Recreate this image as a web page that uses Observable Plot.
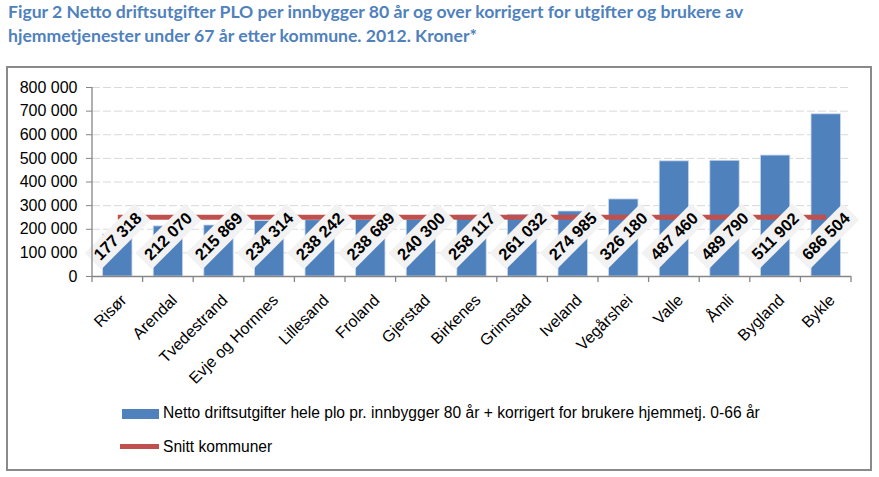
<!DOCTYPE html>
<html>
<head>
<meta charset="utf-8">
<script src="https://cdn.jsdelivr.net/npm/d3@7"></script>
<script src="https://cdn.jsdelivr.net/npm/@observablehq/plot@0.6"></script>
<style>
  html, body { margin: 0; padding: 0; background: #fff; }
  body { width: 879px; height: 477px; position: relative; overflow: hidden; font-family: "Liberation Sans", Arial, sans-serif; }
  #title { position: absolute; left: 8px; top: 0px; font-family: Lato, "Open Sans", sans-serif; font-weight: 700; font-size: 17.6px; line-height: 24px; color: #4F81BD; white-space: nowrap; }
  #frame { position: absolute; left: 6px; top: 66px; width: 866px; height: 405px; box-sizing: border-box; border: 2px solid #8a8a8a; }
  #chart { position: absolute; left: 6px; top: 66px; }
  .leg { position: absolute; font-size: 15.6px; color: #000; white-space: nowrap; line-height: 18px; }
  .sw { position: absolute; }
</style>
</head>
<body>
<div id="title">Figur 2 Netto driftsutgifter PLO per innbygger 80 år og over korrigert for utgifter og brukere av<br>hjemmetjenester under 67 år etter kommune. 2012. Kroner*</div>
<div id="frame"></div>
<div id="chart"></div>
<div class="sw" style="left:122px;top:409px;width:37px;height:10px;background:#4F81BD"></div>
<div class="leg" style="left:163px;top:404px">Netto driftsutgifter hele plo pr. innbygger 80 år + korrigert for brukere hjemmetj. 0-66 år</div>
<div class="sw" style="left:120px;top:444px;width:39px;height:5px;background:#C0504D"></div>
<div class="leg" style="left:163px;top:438px">Snitt kommuner</div>
<script>
const categories = ["Risør","Arendal","Tvedestrand","Evje og Hornnes","Lillesand","Froland","Gjerstad","Birkenes","Grimstad","Iveland","Vegårshei","Valle","Åmli","Bygland","Bykle"];
const values = [177318,212070,215869,234314,238242,238689,240300,258117,261032,274985,326180,487460,489790,511902,686504];
const snittValue = 251000;
const yTicks = [0,100000,200000,300000,400000,500000,600000,700000,800000];

const fmt = d => d3.format(",")(d).replace(/,/g, " ");
const rows = categories.map((name, i) => ({name, value: values[i]}));
const snittRows = categories.map(name => ({name, value: snittValue}));

const labelBox = {
  draw(ctx) {
    const a = 35, b = 11.5, s = Math.SQRT1_2;
    const ux = s, uy = -s, vx = s, vy = s;
    ctx.moveTo(-a*ux - b*vx, -a*uy - b*vy);
    ctx.lineTo(a*ux - b*vx, a*uy - b*vy);
    ctx.lineTo(a*ux + b*vx, a*uy + b*vy);
    ctx.lineTo(-a*ux + b*vx, -a*uy + b*vy);
    ctx.closePath();
  }
};

const chart = Plot.plot({
  width: 866,
  height: 310,
  marginLeft: 86,
  marginRight: 21,
  marginTop: 21,
  marginBottom: 100,
  style: {fontFamily: "'Liberation Sans', Arial, sans-serif", background: "transparent", overflow: "visible"},
  x: {domain: categories, paddingInner: 0.42, paddingOuter: 0.21, round: false, axis: null, label: null},
  y: {domain: [0, 800000], axis: null, label: null},
  marks: [
    Plot.gridY(yTicks.slice(1), {stroke: "#d9d9d9", strokeOpacity: 1, strokeDasharray: "8,3", strokeWidth: 1}),
    Plot.barY(rows, {x: "name", y: "value", fill: "#4F81BD", stroke: "#c6d6ec", strokeWidth: 0.8}),
    Plot.line(snittRows, {x: "name", y: "value", stroke: "#C0504D", strokeWidth: 5, strokeLinecap: "butt"}),
    Plot.ruleY([0], {stroke: "#868686", strokeWidth: 1.3}),
    Plot.axisY({ticks: yTicks, tickFormat: fmt, tickSize: 6, tickPadding: 9, fontSize: 16, stroke: "#868686", fill: "#000", label: null}),
    Plot.dot(rows, {x: "name", y: () => 0, dy: -40, symbol: labelBox, r: 10, fill: "#f2f2f2", stroke: null}),
    Plot.text(rows, {x: "name", y: () => 0, dy: -40, text: d => fmt(d.value), rotate: -45, fontSize: 16.5, fontWeight: "bold", fill: "#000", textAnchor: "middle", lineAnchor: "middle"}),
    Plot.text(categories, {x: d => d, y: () => 0, text: d => d, dx: 6, dy: 21, rotate: -45, fontSize: 16, fill: "#000", textAnchor: "end", lineAnchor: "middle"})
  ]
});
document.getElementById("chart").appendChild(chart);

// axis line and category boundary ticks from the plot's own scales
const sx = chart.scale("x"), sy = chart.scale("y");
const gap = sx.step - sx.bandwidth;
const bounds = categories.map(c => sx.apply(c) - gap / 2).concat([sx.apply(categories[categories.length - 1]) + sx.bandwidth + gap / 2]);
const svg = d3.select(chart);
const g = svg.append("g").attr("stroke", "#868686").attr("stroke-width", 1.3);
g.append("line").attr("x1", bounds[0]).attr("x2", bounds[0]).attr("y1", sy.apply(0)).attr("y2", sy.apply(800000));
bounds.forEach(b => g.append("line").attr("x1", b).attr("x2", b).attr("y1", sy.apply(0)).attr("y2", sy.apply(0) + 6));
</script>
</body>
</html>
